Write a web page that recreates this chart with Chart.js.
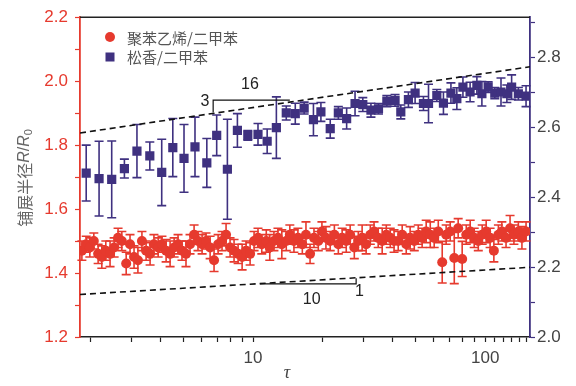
<!DOCTYPE html>
<html>
<head>
<meta charset="utf-8">
<script src="https://cdn.jsdelivr.net/npm/chart.js@4.4.1/dist/chart.umd.min.js"></script>
<style>
  html, body { margin: 0; padding: 0; background: #fff; }
  #wrap { width: 576px; height: 386px; }
</style>
</head>
<body>
<div id="wrap"><canvas id="chart" width="576" height="386"></canvas></div>
<script>
// series names
var seriesNames = ['聚苯乙烯/二甲苯', '松香/二甲苯'];

// 聚苯乙烯/二甲苯 (left axis)
var redTau = [1.83, 1.91, 1.98, 2.06, 2.15, 2.23, 2.32, 2.42, 2.52, 2.62,
  2.72, 2.84, 2.95, 3.07, 3.19, 3.32, 3.46, 3.60, 3.74, 3.90,
  4.05, 4.22, 4.39, 4.57, 4.75, 4.94, 5.14, 5.35, 5.57, 5.79,
  6.03, 6.27, 6.53, 6.79, 7.07, 7.35, 7.65, 7.96, 8.28, 8.62,
  8.97, 9.33, 9.71, 10.1, 10.5, 10.9, 11.4, 11.8, 12.3, 12.8,
  13.3, 13.9, 14.4, 15.0, 15.6, 16.3, 16.9, 17.6, 18.3, 19.1,
  19.8, 20.6, 21.5, 22.4, 23.3, 24.2, 25.2, 26.2, 27.3, 28.4,
  29.5, 30.7, 32.0, 33.2, 34.6, 36.0, 37.5, 39.0, 40.5, 42.2,
  43.9, 45.7, 47.5, 49.5, 51.5, 53.5, 55.7, 58.0, 60.3, 62.8,
  65.3, 67.9, 70.7, 73.6, 76.5, 79.6, 82.9, 86.2, 89.7, 93.4,
  97.1, 101, 105, 109, 114, 118, 123, 128, 133, 139, 144, 150];
var redR = [1.47, 1.49, 1.48, 1.50, 1.46, 1.45, 1.47, 1.46, 1.48, 1.51,
  1.50, 1.43, 1.49, 1.45, 1.44, 1.50, 1.47, 1.46, 1.49, 1.48,
  1.49, 1.47, 1.46, 1.48, 1.49, 1.47, 1.46, 1.49, 1.52, 1.50,
  1.49, 1.50, 1.48, 1.44, 1.49, 1.50, 1.52, 1.48, 1.47, 1.46,
  1.45, 1.47, 1.46, 1.50, 1.51, 1.49, 1.50, 1.48, 1.50, 1.51,
  1.49, 1.50, 1.52, 1.50, 1.51, 1.49, 1.52, 1.46, 1.51, 1.50,
  1.53, 1.51, 1.50, 1.52, 1.49, 1.51, 1.50, 1.52, 1.48, 1.50,
  1.51, 1.49, 1.52, 1.53, 1.51, 1.50, 1.52, 1.51, 1.50, 1.50,
  1.52, 1.49, 1.51, 1.50, 1.52, 1.51, 1.53, 1.52, 1.51, 1.53,
  1.434, 1.52, 1.53, 1.447, 1.54, 1.444, 1.52, 1.53, 1.51, 1.50,
  1.52, 1.53, 1.51, 1.47, 1.52, 1.53, 1.51, 1.54, 1.52, 1.53, 1.51, 1.53];
var redErr = [0.03, 0.025, 0.03, 0.025, 0.03, 0.035, 0.03, 0.04, 0.03, 0.03,
  0.03, 0.035, 0.03, 0.035, 0.04, 0.03, 0.03, 0.035, 0.03, 0.03,
  0.025, 0.035, 0.04, 0.03, 0.03, 0.03, 0.04, 0.03, 0.03, 0.03,
  0.03, 0.025, 0.035, 0.035, 0.03, 0.03, 0.035, 0.03, 0.035, 0.03,
  0.04, 0.03, 0.035, 0.03, 0.03, 0.03, 0.035, 0.04, 0.03, 0.03,
  0.045, 0.03, 0.03, 0.035, 0.03, 0.03, 0.04, 0.03, 0.03, 0.03,
  0.03, 0.035, 0.03, 0.03, 0.03, 0.03, 0.035, 0.03, 0.035, 0.03,
  0.04, 0.03, 0.03, 0.03, 0.03, 0.04, 0.03, 0.03, 0.035, 0.03,
  0.03, 0.03, 0.035, 0.03, 0.03, 0.03, 0.035, 0.04, 0.03, 0.035,
  0.065, 0.03, 0.03, 0.08, 0.03, 0.055, 0.03, 0.035, 0.03, 0.03,
  0.03, 0.035, 0.03, 0.035, 0.03, 0.03, 0.03, 0.04, 0.03, 0.03, 0.035, 0.03];

// 松香/二甲苯 (right axis)
var blueTau = [1.91, 2.17, 2.46, 2.79, 3.16, 3.59, 4.04, 4.51, 5.04, 5.62,
  6.32, 6.97, 7.75, 8.56, 9.49, 10.5, 11.5, 12.6, 13.9, 15.2,
  16.6, 18.2, 19.6, 21.5, 23.3, 25.3, 27.5, 29.7, 32.2, 34.7,
  37.7, 40.9, 43.3, 46.7, 49.9, 54.2, 57.0, 61.9, 66.1, 71.2,
  75.5, 80.2, 86.1, 92.1, 96.8, 103, 110, 117, 124, 130, 139, 150];
var blueR = [2.469, 2.453, 2.451, 2.482, 2.532, 2.518, 2.471, 2.542, 2.511, 2.544,
  2.498, 2.577, 2.480, 2.591, 2.577, 2.580, 2.560, 2.599, 2.641, 2.639,
  2.655, 2.622, 2.644, 2.596, 2.641, 2.625, 2.668, 2.665, 2.649, 2.653,
  2.675, 2.677, 2.644, 2.679, 2.698, 2.668, 2.668, 2.691, 2.669, 2.698,
  2.682, 2.715, 2.701, 2.720, 2.696, 2.715, 2.698, 2.701, 2.696, 2.715, 2.696, 2.689];
var blueErr = [0.080, 0.107, 0.110, 0.027, 0.076, 0.040, 0.095, 0.083, 0.097, 0.085,
  0.070, 0.058, 0.143, 0.048, 0.014, 0.031, 0.035, 0.088, 0.020, 0.030,
  0.017, 0.046, 0.027, 0.027, 0.018, 0.030, 0.035, 0.020, 0.020, 0.015,
  0.016, 0.017, 0.020, 0.022, 0.030, 0.020, 0.055, 0.017, 0.032, 0.029,
  0.031, 0.029, 0.028, 0.025, 0.035, 0.015, 0.016, 0.040, 0.025, 0.035, 0.018, 0.030];

// dashed guide lines (left-axis units)
var guideTau = [1.796, 156];
var upperGuideR = [1.838, 2.045];
var lowerGuideR = [1.333, 1.418];

// slope triangles
var upperTriTau = [6.73, 6.73, 14.4];
var upperTriR = [1.902, 1.941, 1.941];
var lowerTriTau = [10.7, 27.8, 27.8];
var lowerTriR = [1.366, 1.366, 1.384];
var slopeLabels = [
  { text: '3', tau: 6.2, r: 1.937 },
  { text: '16', tau: 9.7, r: 1.988 },
  { text: '10', tau: 17.9, r: 1.316 },
  { text: '1', tau: 28.7, r: 1.341 }
];

// axes
var xRange = [1.796, 156];
var xTickMarks = [2, 3, 4, 5, 6, 7, 8, 9, 10, 20, 30, 40, 50, 60, 70, 80, 90, 100, 110, 120, 130, 140, 150];
var xTickLabels = [10, 100];
var leftRange = [1.2, 2.2];
var leftTickMarks = [1.2, 1.3, 1.4, 1.5, 1.6, 1.7, 1.8, 1.9, 2.0, 2.1, 2.2];
var leftTickLabels = [1.2, 1.4, 1.6, 1.8, 2.0, 2.2];
var rightRange = [2.0, 2.915];
var rightTickMarks = [2.0, 2.1, 2.2, 2.3, 2.4, 2.5, 2.6, 2.7, 2.8, 2.9];
var rightTickLabels = [2.0, 2.2, 2.4, 2.6, 2.8];

var FONT = "'Liberation Sans', Arial, 'Noto Sans CJK SC', sans-serif";
var CJK = "'Noto Sans CJK SC', 'Liberation Sans', sans-serif";
var RED = '#e63a2e';
var BLUE = '#3f3180';

function pts(xs, ys) {
  return xs.map(function(x, i) { return { x: x, y: ys[i] }; });
}

var errorBars = {
  id: 'errorBars',
  beforeDatasetDraw: function(chart, args) {
    var ds = chart.data.datasets[args.index];
    if (!ds.errorValues) return;
    var meta = args.meta;
    var ys = chart.scales[meta.yAxisID];
    var ctx = chart.ctx;
    ctx.save();
    ctx.strokeStyle = ds.backgroundColor;
    ctx.lineWidth = 1.6;
    meta.data.forEach(function(el, i) {
      var v = ds.data[i].y, e = ds.errorValues[i], c = ds.capHalf;
      var top = ys.getPixelForValue(v + e), bot = ys.getPixelForValue(v - e);
      ctx.beginPath();
      ctx.moveTo(el.x, top); ctx.lineTo(el.x, bot);
      ctx.moveTo(el.x - c, top); ctx.lineTo(el.x + c, top);
      ctx.moveTo(el.x - c, bot); ctx.lineTo(el.x + c, bot);
      ctx.stroke();
    });
    ctx.restore();
  }
};

var decor = {
  id: 'decor',
  afterDraw: function(chart) {
    var ctx = chart.ctx, a = chart.chartArea;
    var sx = chart.scales.x, sy = chart.scales.y;
    ctx.save();
    // frame top
    ctx.strokeStyle = '#222';
    ctx.lineWidth = 1.5;
    ctx.beginPath();
    ctx.moveTo(a.left, a.top); ctx.lineTo(a.right, a.top);
    ctx.stroke();

    // legend
    ctx.fillStyle = RED;
    ctx.beginPath(); ctx.arc(110, 37, 5, 0, Math.PI * 2); ctx.fill();
    ctx.fillStyle = BLUE;
    ctx.fillRect(105.5, 52.5, 9, 9);
    ctx.fillStyle = '#555';
    ctx.font = '15px ' + CJK;
    ctx.textBaseline = 'middle';
    ctx.textAlign = 'left';
    ctx.fillText(seriesNames[0], 127, 38);
    ctx.fillText(seriesNames[1], 127, 57);

    // slope labels
    ctx.fillStyle = '#222';
    ctx.font = '16px ' + FONT;
    ctx.textAlign = 'center';
    slopeLabels.forEach(function(l) {
      ctx.fillText(l.text, sx.getPixelForValue(l.tau), sy.getPixelForValue(l.r));
    });

    // x title
    ctx.fillStyle = '#444';
    ctx.font = "italic 18px 'Liberation Serif', serif";
    ctx.fillText('τ', 287, 373);

    // y title
    ctx.translate(25, 178);
    ctx.rotate(-Math.PI / 2);
    var parts = [
      { t: '铺展半径', f: '16px ' + CJK, dy: 0 },
      { t: 'R', f: 'italic 16px ' + FONT, dy: 0 },
      { t: '/', f: '16px ' + FONT, dy: 0 },
      { t: 'R', f: 'italic 16px ' + FONT, dy: 0 },
      { t: '0', f: '11px ' + FONT, dy: 4 }
    ];
    var total = 0;
    parts.forEach(function(p) { ctx.font = p.f; p.w = ctx.measureText(p.t).width; total += p.w; });
    var x = -total / 2;
    ctx.textAlign = 'left';
    ctx.fillStyle = '#666';
    parts.forEach(function(p) { ctx.font = p.f; ctx.fillText(p.t, x, p.dy); x += p.w; });
    ctx.restore();
  }
};

function lineSet(xs, ys, dashed) {
  return {
    data: pts(xs, ys),
    yAxisID: 'y',
    showLine: true,
    borderColor: '#111',
    borderWidth: dashed ? 1.6 : 1.2,
    borderDash: dashed ? [6, 4] : [],
    pointRadius: 0,
    fill: false
  };
}

new Chart(document.getElementById('chart'), {
  type: 'scatter',
  data: {
    datasets: [
      lineSet(guideTau, upperGuideR, true),
      lineSet(guideTau, lowerGuideR, true),
      lineSet(upperTriTau, upperTriR, false),
      lineSet(lowerTriTau, lowerTriR, false),
      {
        label: seriesNames[0],
        data: pts(redTau, redR),
        errorValues: redErr,
        capHalf: 4.5,
        yAxisID: 'y',
        backgroundColor: RED,
        borderColor: RED,
        borderWidth: 0,
        pointStyle: 'circle',
        pointRadius: 5
      },
      {
        label: seriesNames[1],
        data: pts(blueTau, blueR),
        errorValues: blueErr,
        capHalf: 4.5,
        yAxisID: 'y2',
        backgroundColor: BLUE,
        borderColor: BLUE,
        borderWidth: 0,
        pointStyle: 'rect',
        pointRadius: 6.5
      }
    ]
  },
  options: {
    responsive: false,
    animation: false,
    layout: { padding: { top: 17, left: 0, right: 0, bottom: 0 } },
    plugins: { legend: { display: false }, tooltip: { enabled: false } },
    scales: {
      x: {
        type: 'logarithmic',
        min: xRange[0],
        max: xRange[1],
        afterBuildTicks: function(s) { s.ticks = xTickMarks.map(function(v) { return { value: v }; }); },
        afterFit: function(s) { s.height = 49; },
        border: { display: true, color: '#222', width: 1.5 },
        grid: { drawOnChartArea: false, drawTicks: true, tickLength: 5, tickColor: '#222', tickWidth: 1.2 },
        ticks: {
          autoSkip: false, maxRotation: 0, padding: 6, color: '#444',
          font: { family: FONT, size: 17 },
          callback: function(v) { return xTickLabels.indexOf(v) >= 0 ? String(v) : ''; }
        }
      },
      y: {
        position: 'left',
        min: leftRange[0],
        max: leftRange[1],
        afterBuildTicks: function(s) { s.ticks = leftTickMarks.map(function(v) { return { value: v }; }); },
        afterFit: function(s) { s.width = 80; },
        border: { display: true, color: RED, width: 1.8 },
        grid: { drawOnChartArea: false, drawTicks: true, tickLength: 5, tickColor: RED, tickWidth: 1.2 },
        ticks: {
          padding: 7, color: RED,
          font: { family: FONT, size: 17 },
          callback: function(v) { return leftTickLabels.indexOf(v) >= 0 ? v.toFixed(1) : ''; }
        }
      },
      y2: {
        position: 'right',
        min: rightRange[0],
        max: rightRange[1],
        afterBuildTicks: function(s) { s.ticks = rightTickMarks.map(function(v) { return { value: v }; }); },
        afterFit: function(s) { s.width = 46; },
        border: { display: true, color: BLUE, width: 1.8 },
        grid: { drawOnChartArea: false, drawTicks: true, tickLength: 5, tickColor: BLUE, tickWidth: 1.2 },
        ticks: {
          padding: 2, color: '#444',
          font: { family: FONT, size: 17 },
          callback: function(v) { return rightTickLabels.indexOf(v) >= 0 ? v.toFixed(1) : ''; }
        }
      }
    }
  },
  plugins: [errorBars, decor]
});
</script>
</body>
</html>
